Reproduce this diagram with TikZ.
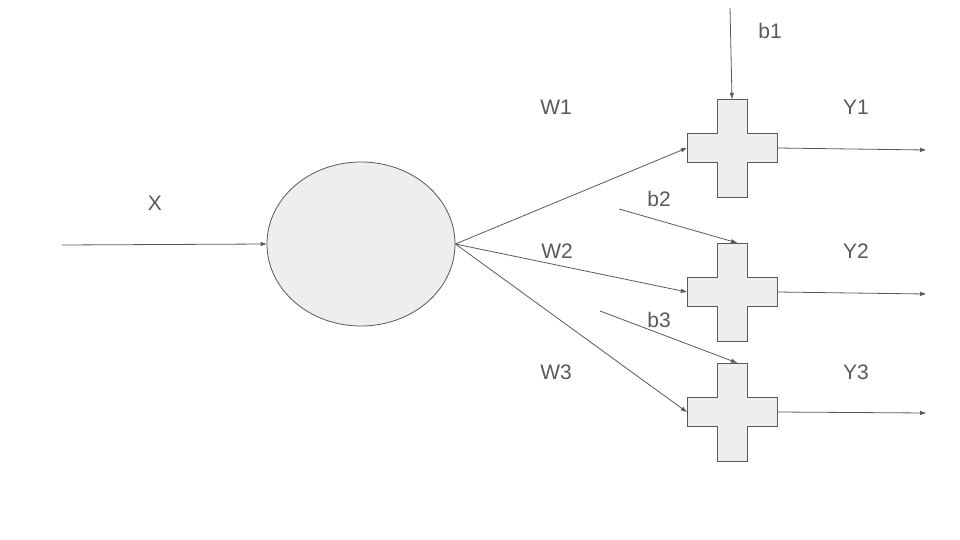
\documentclass[tikz,border=0pt]{standalone}
\usepackage{fontspec}
\setmainfont{Liberation Sans}
\usetikzlibrary{arrows.meta,shapes.geometric,positioning}
\definecolor{linegray}{HTML}{595959}
\definecolor{fillgray}{HTML}{EEEEEE}

\begin{document}
\begin{tikzpicture}[x=1pt, y=-1pt,
  conn/.style={draw=linegray, line width=0.8pt, -{Triangle[length=6pt,width=4pt]}},
  lbl/.style={text=linegray, font=\fontsize{21}{25}\selectfont, text height=15pt, text depth=0pt, inner sep=0pt},
  unit/.style={ellipse, draw=linegray, fill=fillgray, line width=0.8pt, minimum width=188pt, minimum height=164pt, inner sep=0pt},
  sum/.style={minimum width=90pt, minimum height=98pt, inner sep=0pt},
  plusbox/.style={draw=linegray, fill=fillgray, line width=0.8pt}]
\useasboundingbox (0,0) rectangle (960,540);
\node[unit] (h) at (361,244) {};
\node[sum] (s1) at (732,148) {};
\node[sum] (s2) at (732,292) {};
\node[sum] (s3) at (732,412) {};
\foreach \s in {s1,s2,s3}
  \draw[plusbox, shift={(\s)}] (-15,-49) -- (15,-49) -- (15,-14.5) -- (45,-14.5) -- (45,14.5) -- (15,14.5) -- (15,49) -- (-15,49) -- (-15,14.5) -- (-45,14.5) -- (-45,-14.5) -- (-15,-14.5) -- cycle;
% free ends
\coordinate (x0) at (62,245);
\coordinate (b1s) at (730,8);
\coordinate (b2s) at (619,209);
\coordinate (b3s) at (600,311);
\coordinate (y1e) at (926,150);
\coordinate (y2e) at (926,294);
\coordinate (y3e) at (926,413);
\draw[conn] (x0) -- (h.west);
\draw[conn] (h.east) -- (s1.west);
\draw[conn] (h.east) -- (s2.west);
\draw[conn] (h.east) -- (s3.west);
\draw[conn] (b1s) -- (s1.north);
\draw[conn] (b2s) -- ([xshift=5pt]s2.north);
\draw[conn] (b3s) -- ([xshift=5pt]s3.north);
\draw[conn] (s1.east) -- (y1e);
\draw[conn] (s2.east) -- (y2e);
\draw[conn] (s3.east) -- (y3e);
% labels
\node[lbl] (lx) at (155,203) {X};
\node[lbl] (lw1) at (556,107) {W1};
\node[lbl] (lw2) at (557,251) {W2};
\node[lbl] (lw3) at (556,372) {W3};
\node[lbl] (lb1) at (770,31) {b1};
\node[lbl] (lb2) at (659,199) {b2};
\node[lbl] (lb3) at (659,320) {b3};
\node[lbl] (ly1) at (856,107) {Y1};
\node[lbl] (ly2) at (856,251) {Y2};
\node[lbl] (ly3) at (856,372) {Y3};
\end{tikzpicture}
\end{document}
